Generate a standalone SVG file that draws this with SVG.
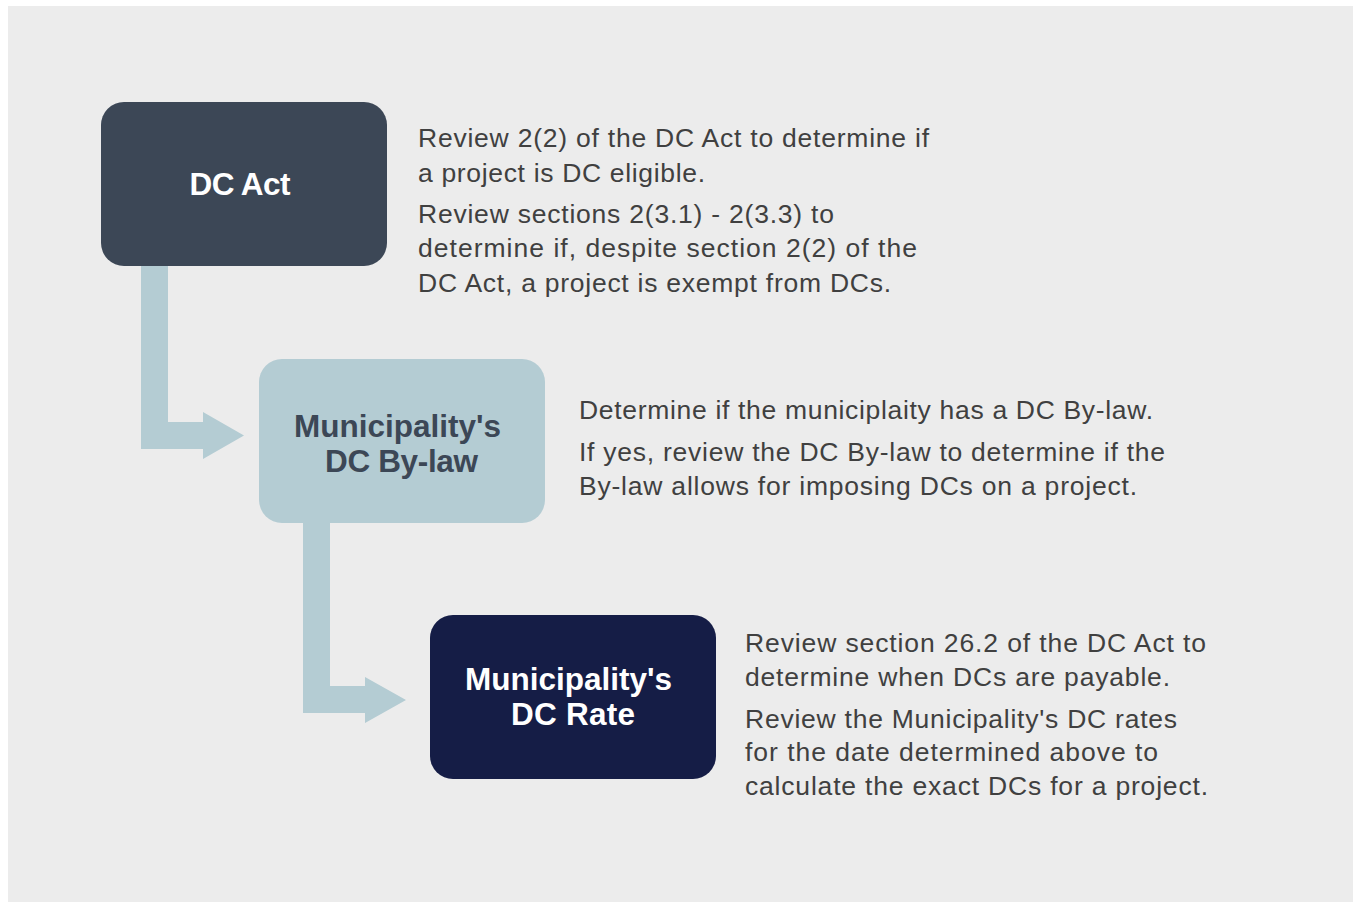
<svg xmlns="http://www.w3.org/2000/svg" width="1353" height="902" viewBox="0 0 1353 902">
<style>
.body{font-family:"Liberation Sans",Arial,sans-serif;font-size:26.5px;fill:#404040}
.title{font-family:"Liberation Sans",Arial,sans-serif;font-size:31.5px;font-weight:bold;text-anchor:middle}
.conn{fill:#b4ccd3}
</style>
<rect x="0" y="0" width="1353" height="902" fill="#ffffff"/>
<rect x="8" y="6" width="1345" height="896" fill="#ececec"/>
<g id="connectors">
<path class="conn" d="M141,266 V449 H203 V459 L244,435.5 L203,412 V422 H168 V266 Z"/>
<path class="conn" d="M303,522 V713 H365 V723 L406,700 L365,677 V686 H330 V522 Z"/>
</g>
<g id="node-dc-act">
<rect x="101" y="102" width="286" height="164" rx="23" fill="#3c4756"/>
<text class="title" x="240" y="195" fill="#ffffff" textLength="101" lengthAdjust="spacing">DC Act</text>
</g>
<g id="node-bylaw">
<rect x="259" y="359" width="286" height="164" rx="23" fill="#b4ccd3"/>
<text class="title" x="397.5" y="437" fill="#3c4756" textLength="207" lengthAdjust="spacing">Municipality's</text>
<text class="title" x="401.5" y="472" fill="#3c4756" textLength="153" lengthAdjust="spacing">DC By-law</text>
</g>
<g id="node-rate">
<rect x="430" y="615" width="286" height="164" rx="23" fill="#151d46"/>
<text class="title" x="568.5" y="690" fill="#ffffff" textLength="207" lengthAdjust="spacing">Municipality's</text>
<text class="title" x="573" y="725" fill="#ffffff" textLength="124" lengthAdjust="spacing">DC Rate</text>
</g>
<g id="text-dc-act">
<text class="body" x="418" y="147" textLength="511" lengthAdjust="spacing">Review 2(2) of the DC Act to determine if</text>
<text class="body" x="418" y="182" textLength="287" lengthAdjust="spacing">a project is DC eligible.</text>
<text class="body" x="418" y="223" textLength="416" lengthAdjust="spacing">Review sections 2(3.1) - 2(3.3) to</text>
<text class="body" x="418" y="257" textLength="499" lengthAdjust="spacing">determine if, despite section 2(2) of the</text>
<text class="body" x="418" y="292" textLength="473" lengthAdjust="spacing">DC Act, a project is exempt from DCs.</text>
</g>
<g id="text-bylaw">
<text class="body" x="579" y="419" textLength="574" lengthAdjust="spacing">Determine if the municiplaity has a DC By-law.</text>
<text class="body" x="579" y="461" textLength="586" lengthAdjust="spacing">If yes, review the DC By-law to determine if the</text>
<text class="body" x="579" y="495" textLength="558" lengthAdjust="spacing">By-law allows for imposing DCs on a project.</text>
</g>
<g id="text-rate">
<text class="body" x="745" y="652" textLength="461" lengthAdjust="spacing">Review section 26.2 of the DC Act to</text>
<text class="body" x="745" y="686" textLength="425" lengthAdjust="spacing">determine when DCs are payable.</text>
<text class="body" x="745" y="728" textLength="432" lengthAdjust="spacing">Review the Municipality's DC rates</text>
<text class="body" x="745" y="761" textLength="413" lengthAdjust="spacing">for the date determined above to</text>
<text class="body" x="745" y="795" textLength="463" lengthAdjust="spacing">calculate the exact DCs for a project.</text>
</g>
</svg>
